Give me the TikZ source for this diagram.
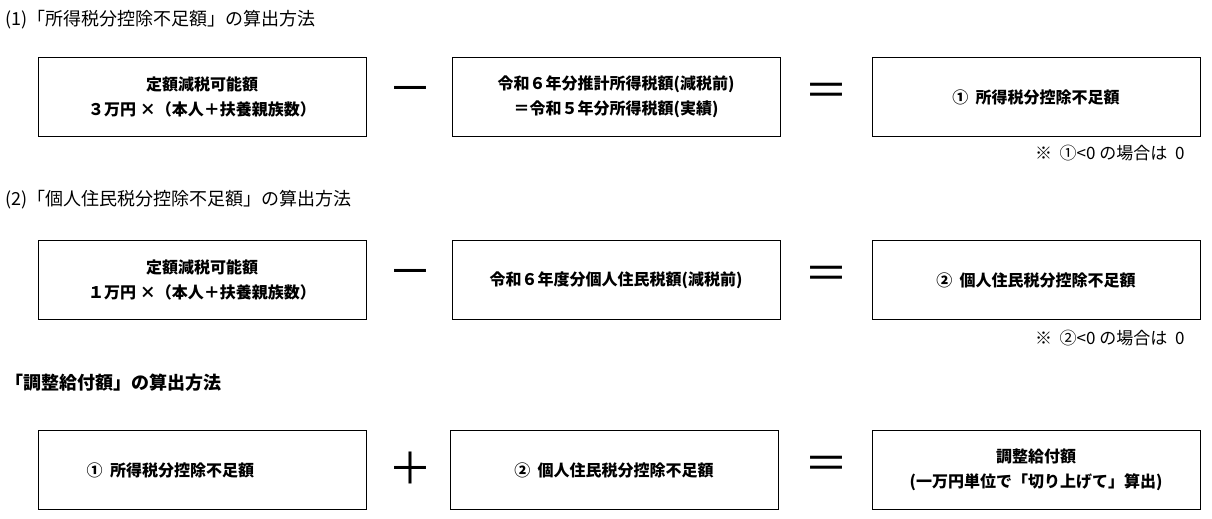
\documentclass[tikz,border=0pt]{standalone}
\usepackage{fontspec}
\setmainfont{Noto Sans CJK JP}
\usetikzlibrary{positioning}
\tikzset{
  calcbox/.style={draw,thick,minimum width=328pt,minimum height=79pt,align=center,font=\fontsize{16}{25}\selectfont\bfseries},
  opsign/.style={font=\fontsize{44}{44}\selectfont},
  heading/.style={anchor=west,font=\fontsize{18}{20}\selectfont},
  remark/.style={anchor=east,font=\fontsize{17}{20}\selectfont}
}
\begin{document}
\begin{tikzpicture}[x=1pt,y=-1pt]
\useasboundingbox (0,0) rectangle (1212,519);

% (1)
\node[heading] (h1) at (2,20) {(1)「所得税分控除不足額」の算出方法};
\node[calcbox] (a1) at (202,97) {定額減税可能額\\３万円 ×（本人＋扶養親族数）};
\node[opsign] (m1) at (410,95) {－};
\node[calcbox] (b1) at (616,97) {令和６年分推計所得税額(減税前)\\＝令和５年分所得税額(実績)};
\node[opsign] (e1) at (826,95) {＝};
\node[calcbox] (c1) at (1036,97) {①\ \ 所得税分控除不足額};
\node[remark] (n1) at (1188,153) {※\ \ ①<0 の場合は\ \ 0};

% (2)
\node[heading] (h2) at (2,200) {(2)「個人住民税分控除不足額」の算出方法};
\node[calcbox] (a2) at (202,280) {定額減税可能額\\１万円 ×（本人＋扶養親族数）};
\node[opsign] (m2) at (410,278) {－};
\node[calcbox] (b2) at (616,280) {令和６年度分個人住民税額(減税前)};
\node[opsign] (e2) at (826,278) {＝};
\node[calcbox] (c2) at (1036,280) {②\ \ 個人住民税分控除不足額};
\node[remark] (n2) at (1188,338) {※\ \ ②<0 の場合は\ \ 0};

% adjustment
\node[heading,font=\fontsize{18}{20}\selectfont\bfseries] (h3) at (2,383) {「調整給付額」の算出方法};
\node[calcbox,anchor=west] (a3) at (38,470) {①\ \ 所得税分控除不足額\hspace{4em}};
\node[opsign] (p3) at (410,468) {＋};
\node[calcbox] (b3) at (614,470) {②\ \ 個人住民税分控除不足額};
\node[opsign] (e3) at (826,468) {＝};
\node[calcbox] (c3) at (1036,470) {調整給付額\\(一万円単位で「切り上げて」算出)};

\end{tikzpicture}
\end{document}
